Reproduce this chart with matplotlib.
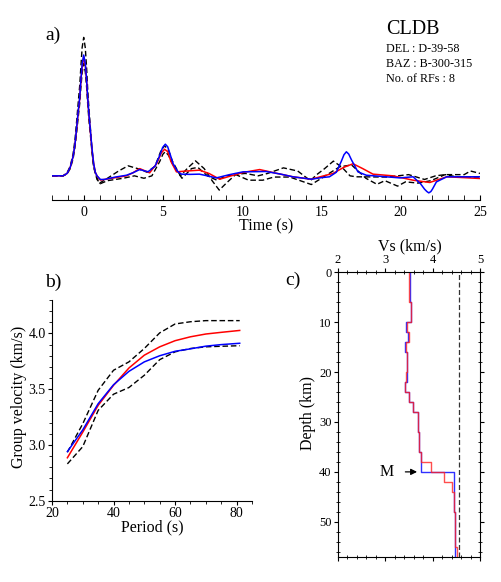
import numpy as np
import matplotlib.pyplot as plt
from matplotlib.ticker import MultipleLocator

plt.rcParams['font.family'] = ['Liberation Serif', 'DejaVu Serif']

# ---- a) receiver functions (time in s, amplitude normalised to blue peak)
t_blue = [-2, -1.3, -1.05, -0.85, -0.67, -0.55, -0.46, -0.35, -0.25, -0.18, -0.1, 0, 0.1, 0.18, 0.25,
          0.33, 0.42, 0.52, 0.63, 0.73, 0.84, 1.05, 1.3,
          2.0, 2.7, 3.1, 3.53, 4.06, 4.5, 4.8, 4.98, 5.15, 5.3, 5.45, 5.64, 5.9, 6.16, 6.7, 7.3, 7.8,
          8.37, 9.2, 10.05, 11.5, 12.4, 13.2, 14.36, 15.0, 15.5, 15.94, 16.25, 16.42, 16.57, 16.72,
          16.9, 17.3, 17.83, 18.8, 19.94, 20.78, 21.24, 21.5, 21.65, 21.77, 21.9, 22.0, 22.25, 22.9,
          24.0, 25]
rf_blue = [0, 0, 0.02, 0.07, 0.16, 0.26, 0.38, 0.53, 0.65, 0.79, 0.92, 1.0, 0.93, 0.8, 0.65,
           0.51, 0.38, 0.23, 0.1, 0.03, 0.0, -0.03, -0.03,
           -0.01, 0.005, 0.025, 0.052, 0.033, 0.08, 0.17, 0.235, 0.262, 0.24, 0.18, 0.1, 0.04, 0.014,
           0.012, 0.014, 0.0, -0.017, 0.01, 0.033, 0.036, 0.015, -0.008, -0.028, -0.015, -0.008, 0.03,
           0.12, 0.175, 0.199, 0.18, 0.13, 0.033, 0.005, -0.005, -0.017, -0.008, -0.064, -0.11,
           -0.13, -0.141, -0.13, -0.11, -0.05, -0.008, -0.008, -0.008]

t_red = [-2, -1.3, -1.05, -0.85, -0.67, -0.55, -0.46, -0.35, -0.25, -0.18, -0.1, 0, 0.1, 0.18, 0.25,
         0.33, 0.42, 0.52, 0.63, 0.73, 0.84, 1.05, 1.3,
         2.0, 2.7, 3.1, 3.53, 4.16, 4.6, 4.9, 5.1, 5.3, 5.5, 5.85, 6.5, 7.3, 7.9, 8.58, 9.3, 10.05,
         11.1, 12.2, 13.2, 14.36, 15.0, 15.73, 16.4, 16.99, 17.6, 18.25, 19.5, 20.78, 21.83, 22.4,
         22.9, 24.0, 25]
rf_red = [0, 0, 0.02, 0.07, 0.16, 0.26, 0.37, 0.52, 0.64, 0.78, 0.9, 0.985, 0.92, 0.79, 0.64,
          0.5, 0.37, 0.22, 0.1, 0.03, 0.0, -0.035, -0.03,
          -0.015, 0.0, 0.025, 0.06, 0.025, 0.1, 0.19, 0.22, 0.2, 0.12, 0.033, 0.04, 0.047, 0.02,
          -0.028, 0.0, 0.028, 0.052, 0.02, -0.008, -0.028, -0.005, 0.02, 0.07, 0.1, 0.06, 0.014,
          0.0, -0.036, -0.055, -0.03, -0.008, -0.015, -0.022]

t_dash1 = [-2, -1.3, -1.05, -0.85, -0.67, -0.55, -0.46, -0.35, -0.25, -0.18, -0.1, 0, 0.1, 0.18,
           0.25, 0.33, 0.42, 0.52, 0.63, 0.84, 1.0,
           1.5, 2.2, 2.8, 3.4, 4.0, 4.5, 4.85, 5.1, 5.35, 5.6, 6.1, 6.6, 7.05, 7.6, 8.1, 8.55, 9.0,
           9.6, 10.2, 11.0, 11.6, 12.6, 13.5, 14.3, 14.7, 15.2, 15.75, 16.3, 16.8, 17.2, 19.1, 20.5,
           21.0, 21.5, 22.2, 22.8, 24.0, 24.4, 25]
rf_dash1 = [0, 0, 0.025, 0.08, 0.18, 0.3, 0.43, 0.6, 0.75, 0.9, 1.06, 1.146, 1.06, 0.9, 0.72,
            0.56, 0.4, 0.22, 0.08, -0.02, -0.06,
            -0.02, 0.04, 0.083, 0.06, 0.03, 0.08, 0.2, 0.25, 0.21, 0.12, 0.0, 0.07, 0.124, 0.06,
            -0.04, -0.118, -0.06, 0.013, 0.02, 0.0, 0.02, 0.066, 0.04, -0.04, 0.01, 0.06, 0.122,
            0.07, 0.0, -0.008, -0.01, 0.01, -0.01, -0.03, 0.0, 0.01, 0.01, 0.04, 0.02]

t_dash2 = [-2, -1.3, -1.05, -0.85, -0.67, -0.55, -0.46, -0.35, -0.25, -0.18, -0.1, 0, 0.1, 0.18,
           0.25, 0.33, 0.42, 0.52, 0.63, 0.84, 1.05,
           1.5, 2.5, 3.2, 3.8, 4.3, 4.8, 5.0, 5.15, 5.35, 5.6, 6.2, 6.8, 7.2, 7.8, 8.4, 9.0, 9.6,
           10.4, 11.3, 12.0, 13.0, 14.36, 15.0, 15.6, 16.15, 16.9, 17.8, 18.5, 19.0, 19.8, 20.3,
           21.1, 21.9, 22.8, 23.6, 25]
rf_dash2 = [0, 0, 0.015, 0.06, 0.14, 0.24, 0.34, 0.48, 0.6, 0.73, 0.85, 0.93, 0.86, 0.74, 0.6,
            0.46, 0.34, 0.2, 0.07, -0.03, -0.065,
            -0.04, -0.02, 0.0, -0.02, 0.0, 0.12, 0.18, 0.2, 0.17, 0.1, -0.02, 0.06, 0.07, 0.0,
            -0.036, 0.0, 0.01, -0.036, -0.036, -0.01, -0.01, -0.072, -0.02, 0.03, 0.075, 0.09,
            -0.02, -0.07, -0.04, -0.085, -0.05, -0.06, -0.04, 0.01, -0.01, -0.01]

# ---- b) group velocity dispersion
period = [25, 30, 35, 40, 45, 50, 55, 60, 65, 70, 75, 81]
gv_red = [2.885, 3.115, 3.355, 3.535, 3.69, 3.805, 3.88, 3.935, 3.97, 3.995, 4.01, 4.027]
gv_blue = [2.94, 3.135, 3.37, 3.54, 3.66, 3.745, 3.8, 3.84, 3.862, 3.886, 3.9, 3.912]
gv_upper = [2.935, 3.19, 3.49, 3.67, 3.745, 3.865, 4.005, 4.085, 4.105, 4.115, 4.115, 4.115]
gv_lower = [2.83, 2.985, 3.31, 3.455, 3.515, 3.625, 3.765, 3.835, 3.865, 3.88, 3.885, 3.89]

# ---- c) shear velocity models (layer tops / bottoms in km, Vs in km/s)
z_top_blue = [0, 4, 6, 10, 12, 14, 16, 20, 22, 24, 26, 28, 32, 36, 40, 48]
z_bot_blue = [4, 6, 10, 12, 14, 16, 20, 22, 24, 26, 28, 32, 36, 40, 48, 57]
vs_blue = [3.53, 3.52, 3.55, 3.44, 3.47, 3.41, 3.46, 3.45, 3.42, 3.51, 3.59, 3.69, 3.71, 3.75, 4.45, 4.46]

z_top_red = [0, 4, 6, 10, 12, 14, 16, 20, 22, 24, 26, 28, 32, 36, 38, 40, 42, 44, 48, 55]
z_bot_red = [4, 6, 10, 12, 14, 16, 20, 22, 24, 26, 28, 32, 36, 38, 40, 42, 44, 48, 55, 57]
vs_red = [3.49, 3.51, 3.55, 3.46, 3.49, 3.43, 3.46, 3.44, 3.41, 3.50, 3.59, 3.69, 3.71, 3.75, 3.97,
          4.23, 4.41, 4.44, 4.47, 4.51]
vs_ref = 4.56


def staircase(tops, bots, vs):
    x = np.repeat(vs, 2)
    y = np.column_stack([tops, bots]).ravel()
    return x, y


W, H = 502, 582
fig = plt.figure(figsize=(W / 100, H / 100), dpi=100)


def fx(px):
    return px / W


def fy(py):
    return 1 - py / H


dash = (0, (4, 2))

# ---------------- panel a
axa = fig.add_axes([fx(52), fy(200), fx(480) - fx(52), fy(20) - fy(200)])
axa.plot(t_dash2, rf_dash2, color='black', lw=1.0, ls=dash)
axa.plot(t_dash1, rf_dash1, color='black', lw=1.0, ls=dash)
axa.plot(t_red, rf_red, color='red', lw=1.1)
axa.plot(t_blue, rf_blue, color='blue', lw=1.1)
axa.set_xlim(-2, 25)
axa.set_ylim(-0.2, 1.29)
for s in ['top', 'right', 'left']:
    axa.spines[s].set_visible(False)
axa.set_yticks([])
axa.xaxis.set_major_locator(MultipleLocator(5))
axa.xaxis.set_minor_locator(MultipleLocator(1))
axa.tick_params(axis='x', which='both', direction='in', length=3.5, labelsize=10, pad=4)
fig.text(fx(266), fy(226), 'Time (s)', ha='center', va='center', fontsize=11.5)
fig.text(fx(45), fy(35), 'a)', ha='left', va='center', fontsize=14)
fig.text(fx(386), fy(34.3), 'CLDB', ha='left', va='baseline', fontsize=14.5)
fig.text(fx(386), fy(52.3), 'DEL : D-39-58', ha='left', va='baseline', fontsize=8.7)
fig.text(fx(386), fy(67.3), 'BAZ : B-300-315', ha='left', va='baseline', fontsize=8.7)
fig.text(fx(386), fy(82), 'No. of RFs : 8', ha='left', va='baseline', fontsize=8.7)

# ---------------- panel b
axb = fig.add_axes([fx(52), fy(500.7), fx(252) - fx(52), fy(300) - fy(500.7)])
axb.plot(period, gv_upper, color='black', lw=1.0, ls=dash)
axb.plot(period, gv_lower, color='black', lw=1.0, ls=dash)
axb.plot(period, gv_red, color='red', lw=1.1)
axb.plot(period, gv_blue, color='blue', lw=1.1)
axb.set_xlim(20, 85)
axb.set_ylim(2.5, 4.3)
axb.spines['top'].set_visible(False)
axb.spines['right'].set_visible(False)
axb.xaxis.set_major_locator(MultipleLocator(20))
axb.xaxis.set_minor_locator(MultipleLocator(5))
axb.yaxis.set_major_locator(MultipleLocator(0.5))
axb.yaxis.set_minor_locator(MultipleLocator(0.1))
axb.yaxis.set_major_formatter(plt.FormatStrFormatter('%.1f'))
axb.tick_params(which='major', direction='out', length=3, labelsize=10, pad=1.5)
axb.tick_params(which='minor', direction='out', length=2)
fig.text(fx(152), fy(527), 'Period (s)', ha='center', va='center', fontsize=11.5)
fig.text(fx(19.5), fy(397), 'Group velocity (km/s)', ha='center', va='center', rotation=90, fontsize=11.5)
fig.text(fx(45), fy(282), 'b)', ha='left', va='center', fontsize=14)

# ---------------- panel c
axc = fig.add_axes([fx(337.7), fy(556.7), fx(480.3) - fx(337.7), fy(272.3) - fy(556.7)])
axc.axvline(vs_ref, color='#333333', lw=0.9, ls=dash)
xb, yb = staircase(z_top_blue, z_bot_blue, vs_blue)
axc.plot(xb, yb, color='#3030ff', lw=1.0)
xr, yr = staircase(z_top_red, z_bot_red, vs_red)
axc.plot(xr, yr, color='#ff2020', lw=1.0, alpha=0.8)
axc.set_xlim(2, 5)
axc.set_ylim(57, 0)
axc.xaxis.set_major_locator(MultipleLocator(1))
axc.xaxis.set_minor_locator(MultipleLocator(0.2))
axc.yaxis.set_major_locator(MultipleLocator(10))
axc.yaxis.set_minor_locator(MultipleLocator(2))
axc.tick_params(which='major', direction='out', length=3, labelsize=9, pad=1.5,
                top=True, bottom=True, left=True, right=True,
                labeltop=True, labelbottom=False)
axc.tick_params(which='minor', direction='inout', length=3.5,
                top=True, bottom=True, left=True, right=True)
fig.text(fx(409.5), fy(246), 'Vs (km/s)', ha='center', va='center', fontsize=11.5)
fig.text(fx(308.5), fy(413), 'Depth (km)', ha='center', va='center', rotation=90, fontsize=11.5)
fig.text(fx(285), fy(280.5), 'c)', ha='left', va='center', fontsize=14)
axc.annotate('M', xy=(3.67, 40), xytext=(3.04, 40), ha='center', va='center', fontsize=11.5,
             arrowprops=dict(arrowstyle='-|>', color='black', lw=0.9, shrinkA=6, shrinkB=0,
                             mutation_scale=9))

fig.savefig('out.png', dpi=100)
